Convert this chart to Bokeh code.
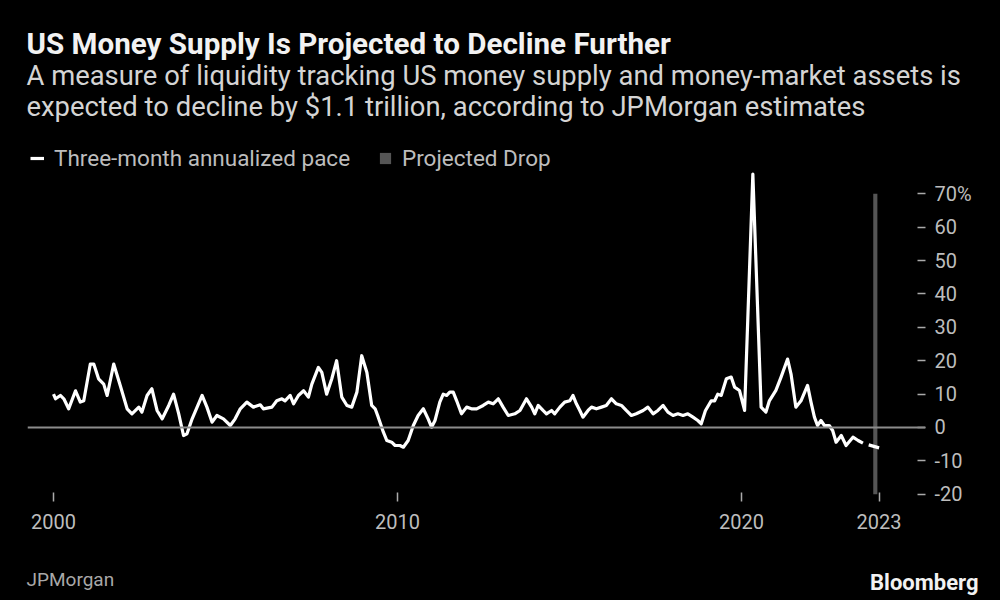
from bokeh.plotting import figure
from bokeh.layouts import column
from bokeh.models import Range1d, FixedTicker, Span, Label, Legend, LegendItem
from bokeh.embed import file_html
from bokeh.resources import INLINE

# ---------------- data ----------------
years = [2000.00, 2000.06, 2000.20, 2000.30, 2000.44, 2000.64, 2000.78, 2000.88,
         2001.07, 2001.17, 2001.31, 2001.46, 2001.56, 2001.75, 2001.94,
         2002.14, 2002.28, 2002.48, 2002.57, 2002.72, 2002.86,
         2003.01, 2003.16, 2003.35, 2003.49, 2003.64, 2003.78, 2003.88,
         2004.03, 2004.32, 2004.46, 2004.61, 2004.75, 2004.94,
         2005.14, 2005.28, 2005.43, 2005.62, 2005.81,
         2006.01, 2006.10, 2006.35, 2006.49, 2006.64, 2006.73, 2006.88, 2006.98,
         2007.12, 2007.27, 2007.41, 2007.51, 2007.70, 2007.80, 2007.94,
         2008.09, 2008.23, 2008.38, 2008.53, 2008.67, 2008.82, 2008.96,
         2009.11, 2009.25, 2009.35, 2009.44, 2009.59, 2009.69, 2009.83, 2009.93,
         2010.07, 2010.17, 2010.31, 2010.46, 2010.60, 2010.75, 2010.89, 2010.99,
         2011.09, 2011.23, 2011.33, 2011.43, 2011.52, 2011.62, 2011.72, 2011.86,
         2012.01, 2012.15, 2012.30, 2012.49, 2012.64, 2012.78, 2012.93,
         2013.07, 2013.22, 2013.41, 2013.56, 2013.75, 2013.90, 2013.99,
         2014.09, 2014.23, 2014.33, 2014.48, 2014.57, 2014.72, 2014.86,
         2015.01, 2015.10, 2015.20, 2015.30, 2015.39, 2015.54, 2015.64, 2015.78, 2015.93,
         2016.07, 2016.22, 2016.36, 2016.51, 2016.65, 2016.80, 2016.94,
         2017.14, 2017.28, 2017.43, 2017.57, 2017.72, 2017.86,
         2018.01, 2018.15, 2018.30, 2018.44, 2018.59, 2018.73, 2018.83, 2018.95,
         2019.12, 2019.22, 2019.31, 2019.41, 2019.56, 2019.70, 2019.80, 2019.94,
         2020.09, 2020.33, 2020.57, 2020.71, 2020.81,
         2021.00, 2021.15, 2021.34, 2021.44, 2021.58, 2021.73, 2021.92,
         2022.02, 2022.12, 2022.21, 2022.31, 2022.41, 2022.55, 2022.65, 2022.75, 2022.90,
         2023.04, 2023.24, 2023.39, 2023.53]
pace = [10.0, 8.6, 9.6, 8.6, 5.6, 11.0, 7.6, 8.0,
        19.0, 19.0, 14.6, 13.0, 9.6, 19.0, 12.6,
        5.6, 4.1, 6.1, 4.6, 9.6, 11.6,
        5.1, 2.6, 6.6, 10.0, 4.1, -2.4, -1.9,
        2.6, 9.6, 6.1, 1.6, 3.6, 2.6,
        0.6, 2.6, 5.6, 7.6, 6.1,
        6.8, 5.6, 6.1, 8.0, 8.6, 8.0, 9.6, 7.1,
        9.6, 11.0, 9.1, 13.0, 18.0, 16.5, 10.0,
        14.6, 20.0, 9.1, 6.6, 6.1, 10.6, 21.5,
        16.5, 6.6, 5.6, 3.1, -1.4, -3.9, -4.4, -5.4,
        -5.4, -5.9, -3.9, 0.6, 3.6, 5.6, 2.6, 0.1,
        2.1, 7.6, 10.0, 9.6, 10.6, 10.6, 8.0, 4.1,
        6.1, 5.6, 5.6, 6.6, 7.6, 7.1, 8.6,
        6.1, 3.6, 4.1, 5.1, 8.6, 6.1, 4.1,
        6.6, 5.1, 4.1, 5.1, 4.1, 6.1, 7.6,
        8.0, 9.6, 7.1, 5.1, 3.1, 5.1, 6.1, 5.6, 6.1,
        6.6, 8.6, 7.1, 6.6, 5.1, 3.6, 4.1,
        5.1, 6.1, 4.1, 5.1, 6.6, 4.6,
        3.6, 4.1, 3.6, 4.1, 3.1, 2.1, 1.1, 5.0,
        8.0, 8.0, 10.0, 9.6, 14.6, 15.1, 12.1, 11.1,
        5.1, 75.9, 6.1, 4.6, 8.0,
        11.1, 15.1, 20.5, 16.0, 6.1, 8.0, 12.6,
        7.6, 3.1, 0.6, 2.1, 0.6, 0.6, -0.9, -4.4, -2.4,
        -5.4, -2.9, -3.9, -4.7]

proj_years = [2023.53, 2024.0]
proj_pace = [-4.7, -6.1]

drop_x = [2023.89]
drop_top = [70]
drop_bottom = [-20]

x_ticks = [2000, 2010, 2020, 2024]
x_tick_labels = ["2000", "2010", "2020", "2023"]
y_ticks = [-20, -10, 0, 10, 20, 30, 40, 50, 60, 70]
y_tick_labels = ["-20", "-10", "0", "10", "20", "30", "40", "50", "60", "70%"]

title_text = "US Money Supply Is Projected to Decline Further"
subtitle_lines = ["A measure of liquidity tracking US money supply and money-market assets is",
                  "expected to decline by $1.1 trillion, according to JPMorgan estimates"]
legend_labels = ["Three-month annualized pace", "Projected Drop"]
source_text = "JPMorgan"
brand_text = "Bloomberg"

FONT = "Roboto"
TICK_COLOR = "#bdbdbd"
W = 1000


def text_panel(height):
    f = figure(width=W, height=height, output_backend="svg", toolbar_location=None,
               title=None, x_range=Range1d(0, W), y_range=Range1d(0, height),
               x_axis_location=None, y_axis_location=None,
               min_border=0, min_border_left=0, min_border_right=0,
               min_border_top=0, min_border_bottom=0, frame_align=False)
    f.background_fill_color = "black"
    f.border_fill_color = "black"
    f.outline_line_color = None
    f.grid.visible = False
    return f


def add_label(fig, text, x, y, size, color, style="normal", align="left"):
    fig.add_layout(Label(x=x, y=y, x_units="screen", y_units="screen", text=text,
                         text_font=FONT, text_font_size=size, text_color=color,
                         text_font_style=style, text_align=align,
                         text_baseline="alphabetic"))


# ---------------- header ----------------
top = text_panel(140)
add_label(top, title_text, 26, 97, "29.6px", "#f2f2f2", "bold")
add_label(top, subtitle_lines[0], 26, 65, "27.4px", "#d4d4d4")
add_label(top, subtitle_lines[1], 26, 34, "27.4px", "#d4d4d4")

# ---------------- chart ----------------
p = figure(width=W, height=405, output_backend="svg", toolbar_location=None,
           title=None,
           x_range=Range1d(1999.244, 2025.349), y_range=Range1d(-22.17, 85.98),
           y_axis_location="right",
           min_border_left=27, min_border_right=75,
           min_border_top=0, min_border_bottom=44, frame_align=False)

p.background_fill_color = "black"
p.border_fill_color = "black"
p.outline_line_color = None
p.xgrid.visible = False
p.ygrid.visible = False

p.add_layout(Span(location=0, dimension="width", line_color="#8c8c8c", line_width=2))

r_bar = p.vbar(x=drop_x, width=0.12, top=drop_top, bottom=drop_bottom,
               fill_color="#555555", line_color=None)

r_line = p.line(years, pace, line_color="white", line_width=3.2, line_join="round")
p.line(proj_years, proj_pace, line_color="white", line_width=3.2, line_dash="0 6 12 4")

xa = p.xaxis[0]
xa.ticker = FixedTicker(ticks=x_ticks)
xa.major_label_overrides = {t: l for t, l in zip(x_ticks, x_tick_labels)}
xa.axis_line_color = None
xa.major_tick_in = 9
xa.major_tick_out = 0
xa.major_tick_line_color = "#aaaaaa"
xa.major_tick_line_width = 1.5
xa.minor_tick_line_color = None
xa.major_label_text_color = TICK_COLOR
xa.major_label_text_font = FONT
xa.major_label_text_font_size = "20px"
xa.major_label_standoff = 12

ya = p.yaxis[0]
ya.ticker = FixedTicker(ticks=y_ticks)
ya.major_label_overrides = {t: l for t, l in zip(y_ticks, y_tick_labels)}
ya.axis_line_color = None
ya.major_tick_in = 8
ya.major_tick_out = 0
ya.major_tick_line_color = "#aaaaaa"
ya.major_tick_line_width = 1.5
ya.minor_tick_line_color = None
ya.major_label_text_color = TICK_COLOR
ya.major_label_text_font = FONT
ya.major_label_text_font_size = "20px"
ya.major_label_standoff = 9


def make_legend(label, renderer, x):
    return Legend(items=[LegendItem(label=label, renderers=[renderer])],
                  location=(x, 330), orientation="horizontal",
                  background_fill_alpha=0, border_line_color=None,
                  padding=0, margin=0, glyph_width=14, glyph_height=14,
                  label_standoff=10, label_text_font=FONT,
                  label_text_font_size="22.5px", label_text_color=TICK_COLOR,
                  label_height=20)


p.add_layout(make_legend(legend_labels[0], r_line, 3))
p.add_layout(make_legend(legend_labels[1], r_bar, 351))

# ---------------- footer ----------------
bottom = text_panel(55)
add_label(bottom, source_text, 26, 21, "19px", "#a8a8a8")
add_label(bottom, brand_text, 978, 18, "22px", "#f2f2f2", "bold", "right")

layout = column(top, p, bottom, spacing=0)

html = file_html(layout, INLINE)
html = html.replace("</head>", "<style>body{background:#000000;}</style></head>", 1)
open("out.html", "w").write(html)
